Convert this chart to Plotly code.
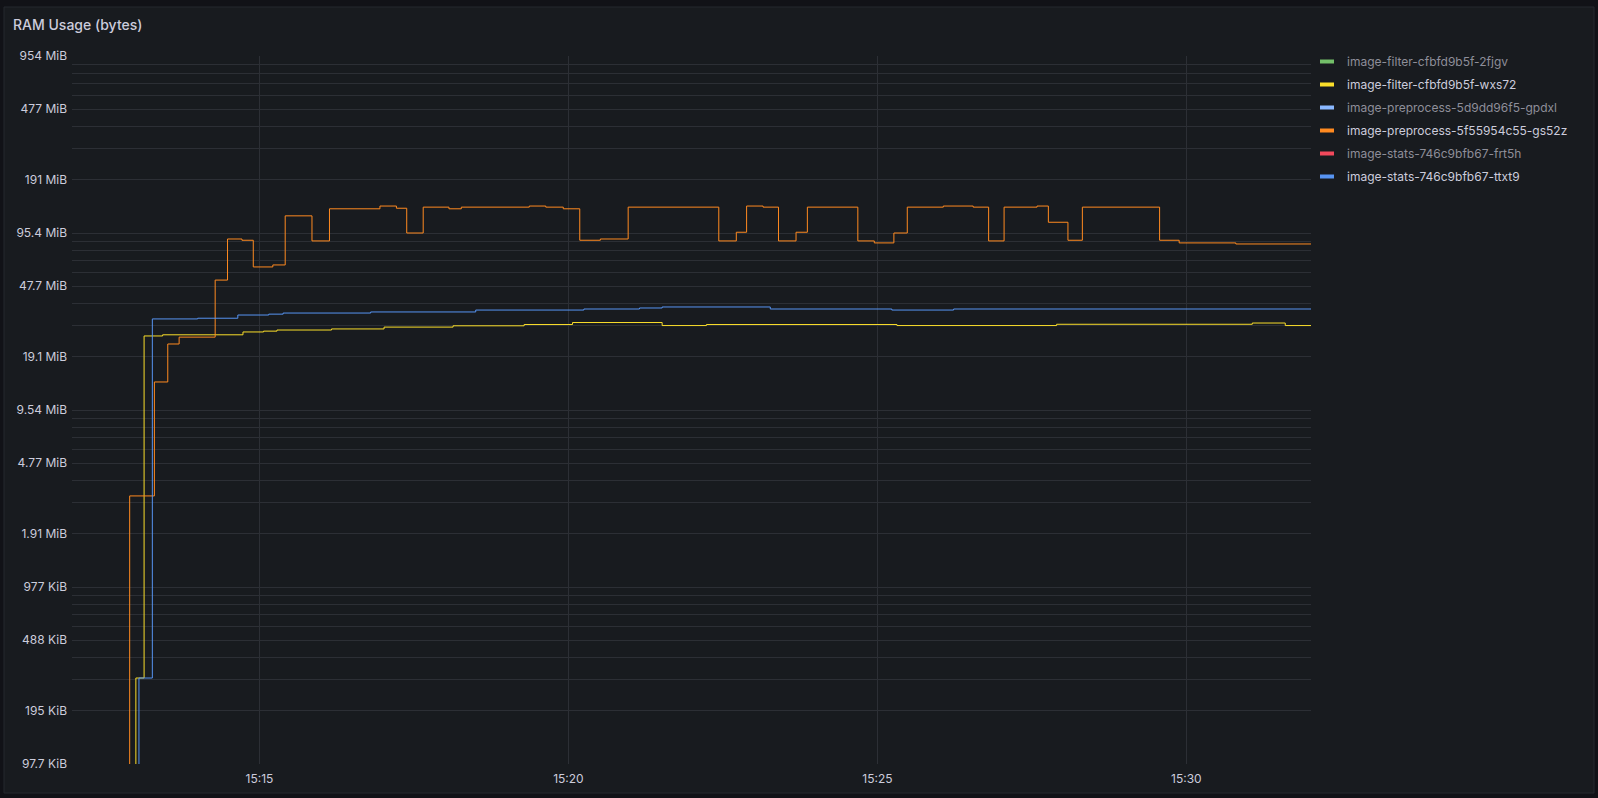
import plotly.graph_objects as go

DAY = "2024-01-01 "

# ---- data ----
series_names = [
    "image-filter-cfbfd9b5f-2fjgv",
    "image-filter-cfbfd9b5f-wxs72",
    "image-preprocess-5d9dd96f5-gpdxl",
    "image-preprocess-5f55954c55-gs52z",
    "image-stats-746c9bfb67-frt5h",
    "image-stats-746c9bfb67-ttxt9",
]
series_colors = ["#73BF69", "#FADE2A", "#8AB8FF", "#FF8A20", "#F2495C", "#5794F2"]
series_hidden = [True, False, True, False, True, False]

orange_t = ["15:12:53", "15:12:54", "15:13:18", "15:13:31", "15:13:42", "15:14:17", "15:14:29",
            "15:14:43", "15:14:54", "15:15:13", "15:15:25", "15:15:51", "15:16:08", "15:16:57",
            "15:17:13", "15:17:23", "15:17:39", "15:18:04", "15:18:16", "15:19:22", "15:19:38",
            "15:19:55", "15:20:11", "15:20:31", "15:20:58", "15:22:26", "15:22:43", "15:22:53",
            "15:23:09", "15:23:24", "15:23:41", "15:23:52", "15:24:41", "15:24:57", "15:25:16",
            "15:25:29", "15:26:04", "15:26:33", "15:26:48", "15:27:03", "15:27:35", "15:27:46",
            "15:28:05", "15:28:19", "15:29:34", "15:29:53", "15:30:48", "15:32:01"]
orange_v = [1e4, 3.27e6, 1.44e7, 2.36e7, 2.58e7, 5.42e7, 9.25e7,
            9.1e7, 6.43e7, 6.6e7, 1.25e8, 9.02e7, 1.37e8, 1.42e8,
            1.38e8, 1.0e8, 1.40e8, 1.37e8, 1.40e8, 1.42e8, 1.40e8,
            1.37e8, 9.1e7, 9.25e7, 1.40e8, 9.02e7, 1.01e8, 1.42e8,
            1.40e8, 9.02e7, 1.01e8, 1.40e8, 9.02e7, 8.79e7, 1.0e8,
            1.40e8, 1.42e8, 1.40e8, 9.02e7, 1.40e8, 1.42e8, 1.15e8,
            9.1e7, 1.40e8, 9.1e7, 8.79e7, 8.67e7, 8.67e7]

blue_t = ["15:13:02", "15:13:03", "15:13:16", "15:14:00", "15:14:39", "15:15:09", "15:15:23",
          "15:16:48", "15:18:30", "15:20:15", "15:21:09", "15:21:31", "15:23:16", "15:25:14",
          "15:26:14", "15:32:01"]
blue_v = [1e4, 3.06e5, 3.27e7, 3.3e7, 3.44e7, 3.48e7, 3.53e7,
          3.58e7, 3.67e7, 3.72e7, 3.77e7, 3.82e7, 3.72e7, 3.67e7,
          3.72e7, 3.72e7]

yellow_t = ["15:12:59", "15:13:00", "15:13:08", "15:13:26", "15:14:44", "15:15:04", "15:15:17",
            "15:16:10", "15:17:01", "15:18:08", "15:19:17", "15:20:04", "15:21:31", "15:22:14",
            "15:25:19", "15:27:54", "15:31:04", "15:31:36", "15:32:01"]
yellow_v = [1e4, 3.06e5, 2.62e7, 2.66e7, 2.76e7, 2.79e7, 2.83e7,
            2.87e7, 2.94e7, 2.99e7, 3.04e7, 3.12e7, 3.0e7, 3.04e7,
            3.0e7, 3.05e7, 3.1e7, 3.0e7, 3.0e7]

y_tick_vals = [1e5, 2e5, 5e5, 1e6, 2e6, 5e6, 1e7, 2e7, 5e7, 1e8, 2e8, 5e8, 1e9]
y_tick_text = ["97.7 KiB", "195 KiB", "488 KiB", "977 KiB", "1.91 MiB", "4.77 MiB", "9.54 MiB",
               "19.1 MiB", "47.7 MiB", "95.4 MiB", "191 MiB", "477 MiB", "954 MiB"]
y_minor_vals = [m * 10 ** e for e in range(5, 9) for m in (3, 4, 6, 7, 8, 9)]

x_range = ["15:11:58", "15:32:01"]

# ---- figure ----
TEXT = "#ccccdc"
DIM = "#8e8e99"
GRID = "#2c2f35"
FONT = "Inter"

fig = go.Figure()

data_series = {
    "image-filter-cfbfd9b5f-wxs72": (yellow_t, yellow_v),
    "image-preprocess-5f55954c55-gs52z": (orange_t, orange_v),
    "image-stats-746c9bfb67-ttxt9": (blue_t, blue_v),
}

for name, color in zip(series_names, series_colors):
    if name in data_series:
        t, v = data_series[name]
        fig.add_trace(go.Scatter(
            x=[DAY + s for s in t], y=v, mode="lines", line=dict(color=color, width=1, shape="hv"),
            showlegend=False, legendgroup=name, hoverinfo="skip"))

for name, color, hidden in zip(series_names, series_colors, series_hidden):
    label = f"<span style='color:{DIM if hidden else TEXT}'>{name}</span>"
    fig.add_trace(go.Scatter(
        x=[None], y=[None], mode="markers", name=label, legendgroup=name,
        marker=dict(symbol="line-ew-open", size=10, color=color, line=dict(color=color, width=4)),
        showlegend=True))

L, R, T, B = 72, 287, 56, 34
W, H = 1598, 798
pw, ph = W - L - R, H - T - B

def px_x(p):
    return (p - L) / pw

def px_y(p):
    return (H - B - p) / ph

fig.add_shape(type="rect", xref="paper", yref="paper", layer="below",
              x0=px_x(4), x1=px_x(1594), y0=px_y(793), y1=px_y(7),
              fillcolor="#181b1f", line=dict(color="#25282e", width=1))

fig.update_layout(
    width=W, height=H,
    margin=dict(l=L, r=R, t=T, b=B),
    paper_bgcolor="#111217",
    plot_bgcolor="rgba(0,0,0,0)",
    font=dict(family=FONT, size=12, color=TEXT),
    title=dict(text="RAM Usage (bytes)", xref="container", yref="container",
               x=13 / W, xanchor="left", y=1 - 25 / H, yanchor="middle",
               font=dict(family=FONT, size=14, color=TEXT, weight=500)),
    legend=dict(x=px_x(1307), xanchor="left", y=px_y(47), yanchor="top",
                bgcolor="rgba(0,0,0,0)", font=dict(family=FONT, size=12, color=TEXT),
                traceorder="grouped", tracegroupgap=4, itemclick=False),
    hovermode=False,
)

fig.update_xaxes(
    type="date", range=[DAY + x_range[0], DAY + x_range[1]],
    tickformat="%H:%M", dtick=300000, tick0=DAY + "15:00:00",
    showgrid=True, gridcolor=GRID, gridwidth=1, zeroline=False, showline=False,
    ticks="", tickfont=dict(family=FONT, size=12, color=TEXT), ticklabelstandoff=6,
)
fig.update_yaxes(
    type="log", range=[5, 9], tickmode="array", tickvals=y_tick_vals, ticktext=y_tick_text,
    showgrid=True, gridcolor=GRID, gridwidth=1, zeroline=False, showline=False,
    ticks="", tickfont=dict(family=FONT, size=12, color=TEXT), ticklabelstandoff=4,
    minor=dict(tickmode="array", tickvals=y_minor_vals, showgrid=True, gridcolor=GRID, gridwidth=1, ticks=""),
)

fig.write_html("out.html")
